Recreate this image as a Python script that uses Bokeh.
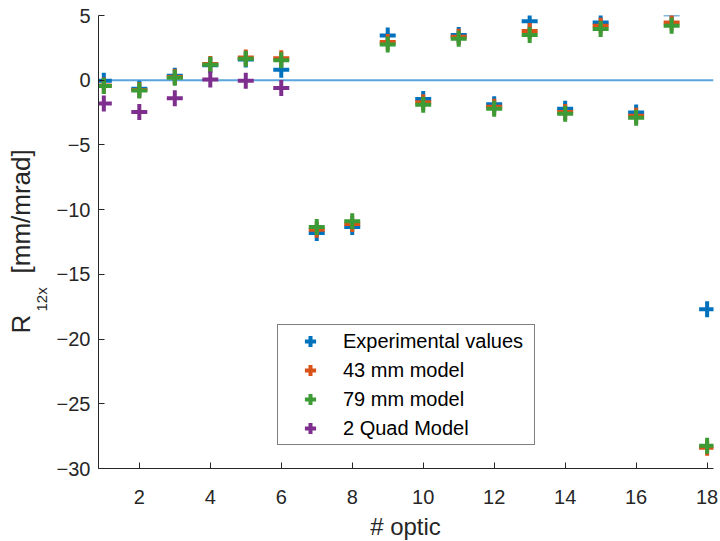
import math
from bokeh.plotting import figure
from bokeh.layouts import row, column
from bokeh.models import Span, Legend, LegendItem, Label, FixedTicker, Range1d
from bokeh.embed import file_html
from bokeh.resources import INLINE

# ---- data ----
optic = list(range(1, 19))
experimental = [-0.05, -0.65, 0.35, 1.15, 1.6, 0.8, -11.8, -11.35, 3.45, -1.45,
                3.5, -1.85, 4.55, -2.2, 4.45, -2.5, 5.1, -17.7]
model_43mm = [-0.4, -0.75, 0.25, 1.25, 1.75, 1.7, -11.55, -11.1, 2.95, -1.7,
              3.35, -2.05, 3.8, -2.45, 4.2, -2.75, 4.45, -28.4]
model_79mm = [-0.45, -0.8, 0.2, 1.2, 1.65, 1.55, -11.35, -10.9, 2.75, -1.9,
              3.2, -2.2, 3.5, -2.6, 3.95, -2.9, 4.2, -28.25]
quad_optic = [1, 2, 3, 4, 5, 6]
quad_model = [-1.8, -2.45, -1.4, 0.05, -0.05, -0.6]

x_ticks = [2, 4, 6, 8, 10, 12, 14, 16, 18]
y_ticks = [-30, -25, -20, -15, -10, -5, 0, 5]
series_names = ["Experimental values", "43 mm model", "79 mm model", "2 Quad Model"]
x_title = "# optic"
y_title_main, y_title_sub, y_title_unit = "R", "12x", "[mm/mrad]"

BLUE = "#0072BD"
ORANGE = "#D95319"
GREEN = "#3D9B35"
PURPLE = "#7E2F8E"
ZERO = "#5AA5DC"
AX = "#262626"
FONT = "Liberation Sans"

LEFT_W = 50      # strip holding the y-axis title
BOTTOM_H = 29    # strip holding the x-axis title


def blank(width, height):
    f = figure(width=width, height=height, output_backend="svg",
               toolbar_location=None, x_range=Range1d(0, 1), y_range=Range1d(0, 1),
               x_axis_location=None, y_axis_location=None,
               min_border_left=0, min_border_right=0, min_border_top=0,
               min_border_bottom=0)
    f.grid.visible = False
    f.outline_line_color = None
    f.background_fill_color = "white"
    f.border_fill_color = "white"
    return f


p = figure(width=720 - LEFT_W, height=541 - BOTTOM_H, output_backend="svg",
           toolbar_location=None,
           x_range=Range1d(0.85, 18.18), y_range=Range1d(-30, 5),
           min_border_left=98 - LEFT_W, min_border_right=7, min_border_top=15,
           min_border_bottom=44)
p.grid.visible = False
p.outline_line_color = None
p.background_fill_color = "white"
p.border_fill_color = "white"

p.add_layout(Span(location=0, dimension="width", line_color=ZERO,
                  line_width=2, level="underlay"))

mk = dict(marker="cross", size=16, line_width=4)
r1 = p.scatter(optic, experimental, color=BLUE, **mk)
r2 = p.scatter(optic, model_43mm, color=ORANGE, **mk)
r3 = p.scatter(optic, model_79mm, color=GREEN, **mk)
r4 = p.scatter(quad_optic, quad_model, color=PURPLE, **mk)

for ax in (p.xaxis[0], p.yaxis[0]):
    ax.axis_line_color = AX
    ax.axis_line_width = 1
    ax.major_tick_line_color = AX
    ax.major_tick_in = 6
    ax.major_tick_out = 0
    ax.minor_tick_line_color = None
    ax.major_label_text_font = FONT
    ax.major_label_text_font_size = "20px"
    ax.major_label_text_color = AX

p.xaxis.ticker = FixedTicker(ticks=x_ticks)
p.yaxis.ticker = FixedTicker(ticks=y_ticks)
p.xaxis.major_label_standoff = 21
p.yaxis.major_label_standoff = 8

legend = Legend(items=[LegendItem(label=series_names[0], renderers=[r1]),
                       LegendItem(label=series_names[1], renderers=[r2]),
                       LegendItem(label=series_names[2], renderers=[r3]),
                       LegendItem(label=series_names[3], renderers=[r4])],
                location=(179, 23))
legend.border_line_color = "black"
legend.border_line_width = 1
legend.background_fill_color = "white"
legend.background_fill_alpha = 1
legend.padding = 2
legend.margin = 0
legend.spacing = 1
legend.label_height = 28
legend.glyph_height = 28
legend.glyph_width = 60
legend.label_standoff = 3
legend.label_width = 189
legend.label_text_font = FONT
legend.label_text_font_size = "20px"
legend.label_text_color = "black"
p.add_layout(legend)

# ---- y-axis title strip (R with subscript 12x) ----
yl = blank(LEFT_W, 541)
lab = dict(x_units="screen", y_units="screen", angle=math.pi / 2,
           text_color=AX, text_font=FONT, text_align="left",
           text_baseline="alphabetic")
yl.add_layout(Label(x=20, y=208, text=y_title_main, text_font_size="26px", **lab))
yl.add_layout(Label(x=41, y=230, text=y_title_sub, text_font_size="15px", **lab))
yl.add_layout(Label(x=20, y=268, text=y_title_unit, text_font_size="26px", **lab))

# ---- x-axis title strip ----
xl = blank(720 - LEFT_W, BOTTOM_H)
xl.add_layout(Label(x=307, y=15, x_units="screen", y_units="screen", text=x_title,
                    text_color=AX, text_font=FONT, text_font_size="24px",
                    text_align="center", text_baseline="middle"))

layout = row(yl, column(p, xl, spacing=0), spacing=0)

open("out.html", "w").write(file_html(layout, INLINE))
